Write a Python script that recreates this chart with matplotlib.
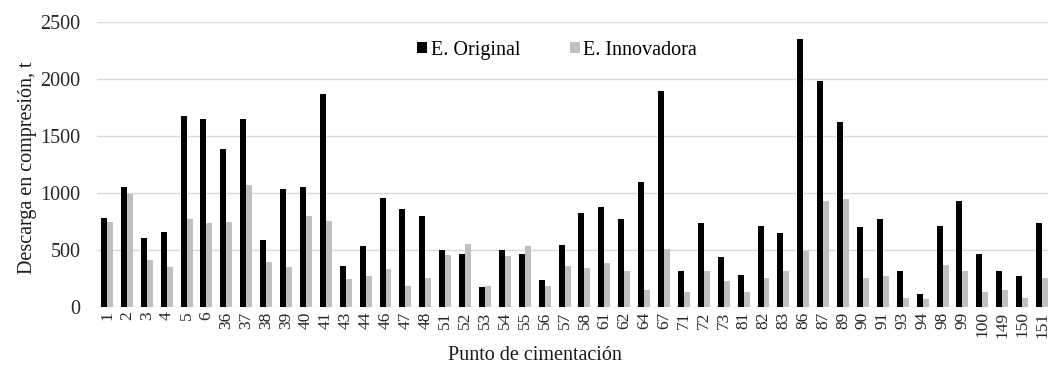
import matplotlib.pyplot as plt
import numpy as np

plt.rcParams['font.family'] = ['Liberation Serif', 'DejaVu Serif']

puntos = ['1', '2', '3', '4', '5', '6', '36', '37', '38', '39', '40', '41',
          '43', '44', '46', '47', '48', '51', '52', '53', '54', '55', '56', '57',
          '58', '61', '62', '64', '67', '71', '72', '73', '81', '82', '83', '86',
          '87', '89', '90', '91', '93', '94', '98', '99', '100', '149', '150', '151']

original = [785, 1050, 610, 655, 1675, 1645, 1385, 1650, 590, 1035, 1050, 1870,
            360, 540, 955, 865, 800, 500, 465, 175, 505, 465, 235, 545,
            830, 880, 770, 1095, 1890, 320, 735, 440, 280, 715, 650, 2350,
            1985, 1620, 700, 775, 320, 120, 715, 930, 465, 320, 275, 740]

innovadora = [745, 990, 415, 355, 770, 740, 750, 1070, 400, 350, 800, 755,
              245, 275, 335, 190, 255, 455, 550, 185, 445, 540, 185, 360,
              340, 385, 315, 150, 510, 130, 315, 230, 130, 255, 320, 490,
              930, 950, 255, 275, 80, 75, 370, 315, 130, 155, 80, 255]

x = np.arange(len(puntos))
w = 0.3

fig = plt.figure(figsize=(10.48, 3.65), dpi=100)
ax = fig.add_axes([0.0926, 0.158, 0.9074, 0.7825])

ax.bar(x - w / 2, original, width=w, color='black', label='E. Original', zorder=3)
ax.bar(x + w / 2, innovadora, width=w, color='#bfbfbf', label='E. Innovadora', zorder=3)

ax.set_xlim(-0.5, 47.3)
ax.set_ylim(0, 2500)
ax.set_yticks(range(0, 2501, 500))
ax.set_xticks(x)
ax.set_xticklabels(puntos, rotation=90)
ax.tick_params(axis='both', length=0, colors='#262626')
ax.tick_params(axis='y', pad=12, labelsize=14.5)
ax.tick_params(axis='x', pad=3, labelsize=12.5)

ax.grid(axis='y', color='#d9d9d9', linewidth=1, zorder=0)
for s in ax.spines.values():
    s.set_visible(False)

ax.set_ylabel('Descarga en compresión, t', fontsize=14.5, color='#1a1a1a')
ax.yaxis.set_label_coords(-0.063, 0.49)
ax.set_xlabel('Punto de cimentación', fontsize=14.5, color='#1a1a1a')
ax.xaxis.set_label_coords(0.461, -0.135)

ax.legend(loc='center', bbox_to_anchor=(0.484, 0.90), ncol=2, frameon=False,
          fontsize=14.5, handlelength=0.5, handleheight=0.5, handletextpad=0.15,
          columnspacing=2.5)

plt.savefig('out.png', dpi=100)
